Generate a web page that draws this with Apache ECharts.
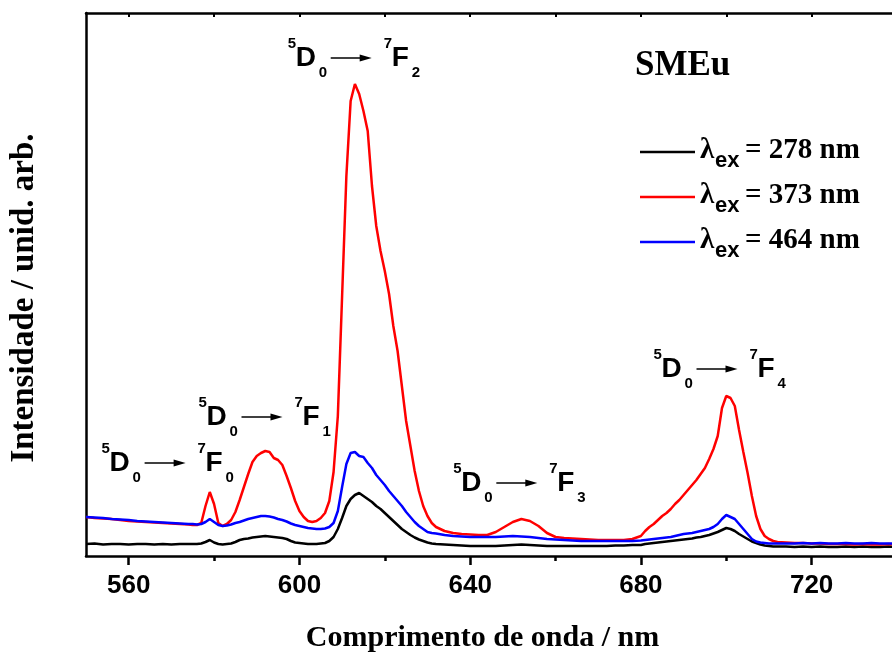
<!DOCTYPE html>
<html>
<head>
<meta charset="utf-8">
<script src="https://cdn.jsdelivr.net/npm/echarts@6/dist/echarts.min.js"></script>
<style>
  html, body { margin: 0; padding: 0; background: #ffffff; }
  #chart { width: 892px; height: 652px; }
</style>
</head>
<body>
<div id="chart"></div>
<script>
// Emission wavelengths (nm), shared by the three spectra
const wavelength = [
  550,552,554,556,558,560,562,564,566,568,570,572,574,
  575,576,577,578,579,580,581,582,583,584,585,586,587,588,589,590,591,592,593,594,
  595,596,597,598,599,600,601,602,603,604,605,606,607,608,609,610,611,612,613,614,
  615,616,617,618,619,620,621,622,623,624,625,626,627,628,629,630,631,632,
  634,636,638,640,642,644,646,648,650,652,654,656,658,660,662,664,666,668,670,672,674,676,678,680,
  681,682,683,684,685,686,687,688,689,690,691,692,693,694,695,696,697,698,699,700,
  701,702,703,704,705,706,707,708,709,710,711,712,
  714,716,718,720,722,724,726,728,730,732,734,736,738,740
];

// Intensity (arb. units), excitation at 278 nm
const intensity278 = [
  12,12.5,11.5,12,12,11.5,12,12,11.5,12,11.5,12,12,
  12,12,12.5,14,16,13.5,12,11.5,12,12.5,14,16,17,17.5,18.5,19,19.5,20,19.5,19,
  18.5,18,17,15,13.5,13,12.5,12,12,12,12.5,13,15,19,27,38,50,57,61,63,
  60,57,54,50,47,43,39,35,31,27,24,21,18.5,16.5,15,13.5,12.5,12,
  11.5,11,10.5,10,10,10,10,10.5,11,11.5,11,10.5,10,10,10,10,10,10,10,10,10.5,10.5,11,11,
  12,12.5,13,13.5,14,14.5,15,15.5,16,16.5,17,17.5,18.5,19,20,21,22.5,24,26,28,
  27,25,22,19.5,17,14.5,13,11.5,10.5,10,9.5,9.5,
  9.5,9,9.5,9,9.5,9,9,9.5,9,9.5,9,9,9.5,9
];

// Intensity (arb. units), excitation at 373 nm
const intensity373 = [
  39,38,37.5,37,36,35,34.5,34,33.5,33,32.5,32,31.5,
  31,31,33,50,64,52,33,30,32,36,44,56,69,82,94,100,103,105,104,98,
  96,91,80,68,55,45,39,35,34,35,38,43,55,84,140,260,380,455,472,462,
  445,425,370,330,305,285,262,230,205,170,135,110,85,65,50,40,33,29,
  25,23,22,21.5,21,21,24,29,34,37,35,30,23,19,18,17.5,17,16.5,16,16,16,16,17,20,
  25,29,32,36,40,43,47,52,56,61,66,71,76,82,88,97,107,120,148,160,
  158,150,126,104,83,60,40,27,20,17,15,14,
  13.5,13,13,12.5,12.5,12,12,12,11.5,12,11.5,11.5,12,11.5
];

// Intensity (arb. units), excitation at 464 nm
const intensity464 = [
  39,38.5,38,37,36.5,36,35,34.5,34,33.5,33,32.5,32,
  32,31.5,32,34,37,34,31,30,30.5,31.5,33,34,35.5,37,38,39,40,40,39.5,38.5,
  37,36,34.5,32.5,31,30,29,28,27.5,27,27,27.5,29,33,45,69,92,103,104,100,
  99,93,88,81,76,71,65,60,55,50,44,39,34,30,27,24,23,22.5,
  21,20,19.5,19,19,19,19,19.5,20,19.5,19,18,17,16.5,16,15.5,15,15,15,15,15,15,15,15.5,
  16,16.5,17,17.5,18,18.5,19,20,21,22,22.5,23,24,25,26,27,29,32,37,41,
  39,37,32,27,22,17,14.5,13.5,13,12.5,12.5,12.5,
  12.5,12.5,13,12.5,13,12.5,12.5,13,12.5,12.5,13,12.5,12.5,12.5
];

// Axis ticks
const majorTicks = [560, 600, 640, 680, 720];
const minorTicks = [580, 620, 660, 700, 740];
const allTicks = [560, 580, 600, 620, 640, 660, 680, 700, 720, 740];

// Legend entries and transition labels
const excitationLabels = ['278', '373', '464'];
const seriesColors = ['#000000', '#ff0000', '#0000ff'];
const sampleName = 'SMEu';
const transitionFinal = ['0', '1', '2', '3', '4'];
// label anchors in data space: [wavelength, intensity]
const transitionAnchors = [[556.0, 83], [578.7, 129], [599.6, 488], [638.4, 63], [685.3, 177]];

const SANS = '"Liberation Sans", Arial, sans-serif';
const SERIF = '"Liberation Serif", "Times New Roman", serif';

const chart = echarts.init(document.getElementById('chart'), null, { renderer: 'canvas' });

function pairs(values) {
  return wavelength.map((w, i) => [w, values[i]]);
}

const spectra = [intensity278, intensity373, intensity464];

const option = {
  animation: false,
  backgroundColor: '#ffffff',
  grid: { left: 86, top: 13, width: 811, height: 543, outerBoundsMode: 'none', containLabel: false },
  xAxis: [
    {
      type: 'value', min: 550, max: 740, position: 'bottom',
      axisLine: { show: true, lineStyle: { color: '#000', width: 2.5 } },
      axisTick: { show: true, customValues: majorTicks, length: 9, inside: false,
                  lineStyle: { color: '#000', width: 2.5 } },
      axisLabel: { show: true, customValues: majorTicks, margin: 17, color: '#000',
                   fontFamily: SANS, fontWeight: 'bold', fontSize: 26 },
      splitLine: { show: false },
      name: 'Comprimento de onda / nm', nameLocation: 'middle', nameGap: 67,
      nameTextStyle: { fontFamily: SERIF, fontWeight: 'bold', fontSize: 30, color: '#000',
                       padding: [0, 18, 0, 0], verticalAlign: 'top' }
    },
    {
      type: 'value', min: 550, max: 740, position: 'bottom',
      axisLine: { show: false },
      axisTick: { show: true, customValues: minorTicks, length: 5, inside: false,
                  lineStyle: { color: '#000', width: 2.5 } },
      axisLabel: { show: false }, splitLine: { show: false }
    },
    {
      type: 'value', min: 550, max: 740, position: 'top',
      axisLine: { show: true, lineStyle: { color: '#000', width: 2.5 } },
      axisTick: { show: true, customValues: allTicks, length: 4, inside: true,
                  lineStyle: { color: '#000', width: 2 } },
      axisLabel: { show: false }, splitLine: { show: false }
    }
  ],
  yAxis: [{
    type: 'value', min: 0, max: 543,
    axisLine: { show: true, lineStyle: { color: '#000', width: 2.5 } },
    axisTick: { show: false }, axisLabel: { show: false }, splitLine: { show: false },
    name: 'Intensidade / unid. arb.', nameLocation: 'middle', nameGap: 45,
    nameTextStyle: { fontFamily: SERIF, fontWeight: 'bold', fontSize: 33, color: '#000',
                     padding: [0, 27, 0, 0] }
  }],
  series: spectra.map((values, i) => ({
    name: 'λex = ' + excitationLabels[i] + ' nm',
    type: 'line',
    xAxisIndex: 0, yAxisIndex: 0,
    showSymbol: false, symbol: 'none',
    clip: true,
    lineStyle: { color: seriesColors[i], width: 2.5 },
    itemStyle: { color: seriesColors[i] },
    data: pairs(values)
  }))
};

chart.setOption(option);

// text placed by its alphabetic baseline
function textAt(str, x, baseline, size, family) {
  const k = family === SERIF ? 0.34 : 0.347;
  return {
    type: 'text', x: x, y: baseline - k * size, z: 100,
    style: {
      text: str, fill: '#000',
      font: 'bold ' + size + 'px ' + family,
      align: 'left', verticalAlign: 'middle',
      textAlign: 'left', textVerticalAlign: 'middle'
    }
  };
}

function arrow(x1, x2, y) {
  return [
    { type: 'line', z: 100, shape: { x1: x1, y1: y, x2: x2 - 8, y2: y },
      style: { stroke: '#000', lineWidth: 1.3 } },
    { type: 'polygon', z: 100,
      shape: { points: [[x2 - 12, y - 3.5], [x2, y], [x2 - 12, y + 3.5]] },
      style: { fill: '#000' } }
  ];
}

function transitionLabel(anchor, finalJ) {
  const p = chart.convertToPixel({ gridIndex: 0 }, anchor);
  const x = p[0], b = p[1];
  return [
    textAt('5', x - 10, b - 19, 15, SANS),
    textAt('D', x - 2, b, 28, SANS),
    textAt('0', x + 21, b + 10, 15, SANS),
    ...arrow(x + 33, x + 74, b - 10),
    textAt('7', x + 86, b - 19, 15, SANS),
    textAt('F', x + 94, b, 28, SANS),
    textAt(finalJ, x + 114, b + 10, 15, SANS)
  ];
}

const graphics = [];
transitionAnchors.forEach((a, i) => graphics.push(...transitionLabel(a, transitionFinal[i])));

// sample name
graphics.push(textAt(sampleName, 635, 78, 35, SERIF));

// legend
const legendRows = [152, 197, 242];
excitationLabels.forEach((lab, i) => {
  const y = legendRows[i];
  graphics.push({ type: 'line', z: 100, shape: { x1: 640, y1: y, x2: 695, y2: y },
                  style: { stroke: seriesColors[i], lineWidth: 2.5 } });
  graphics.push(textAt('λ', 700, y + 8.5, 29, SERIF));
  graphics.push(textAt('ex', 715, y + 17, 22, SANS));
  graphics.push(textAt('= ' + lab + ' nm', 745, y + 8.5, 29, SERIF));
});

chart.setOption({ graphic: { elements: graphics } });
</script>
</body>
</html>
